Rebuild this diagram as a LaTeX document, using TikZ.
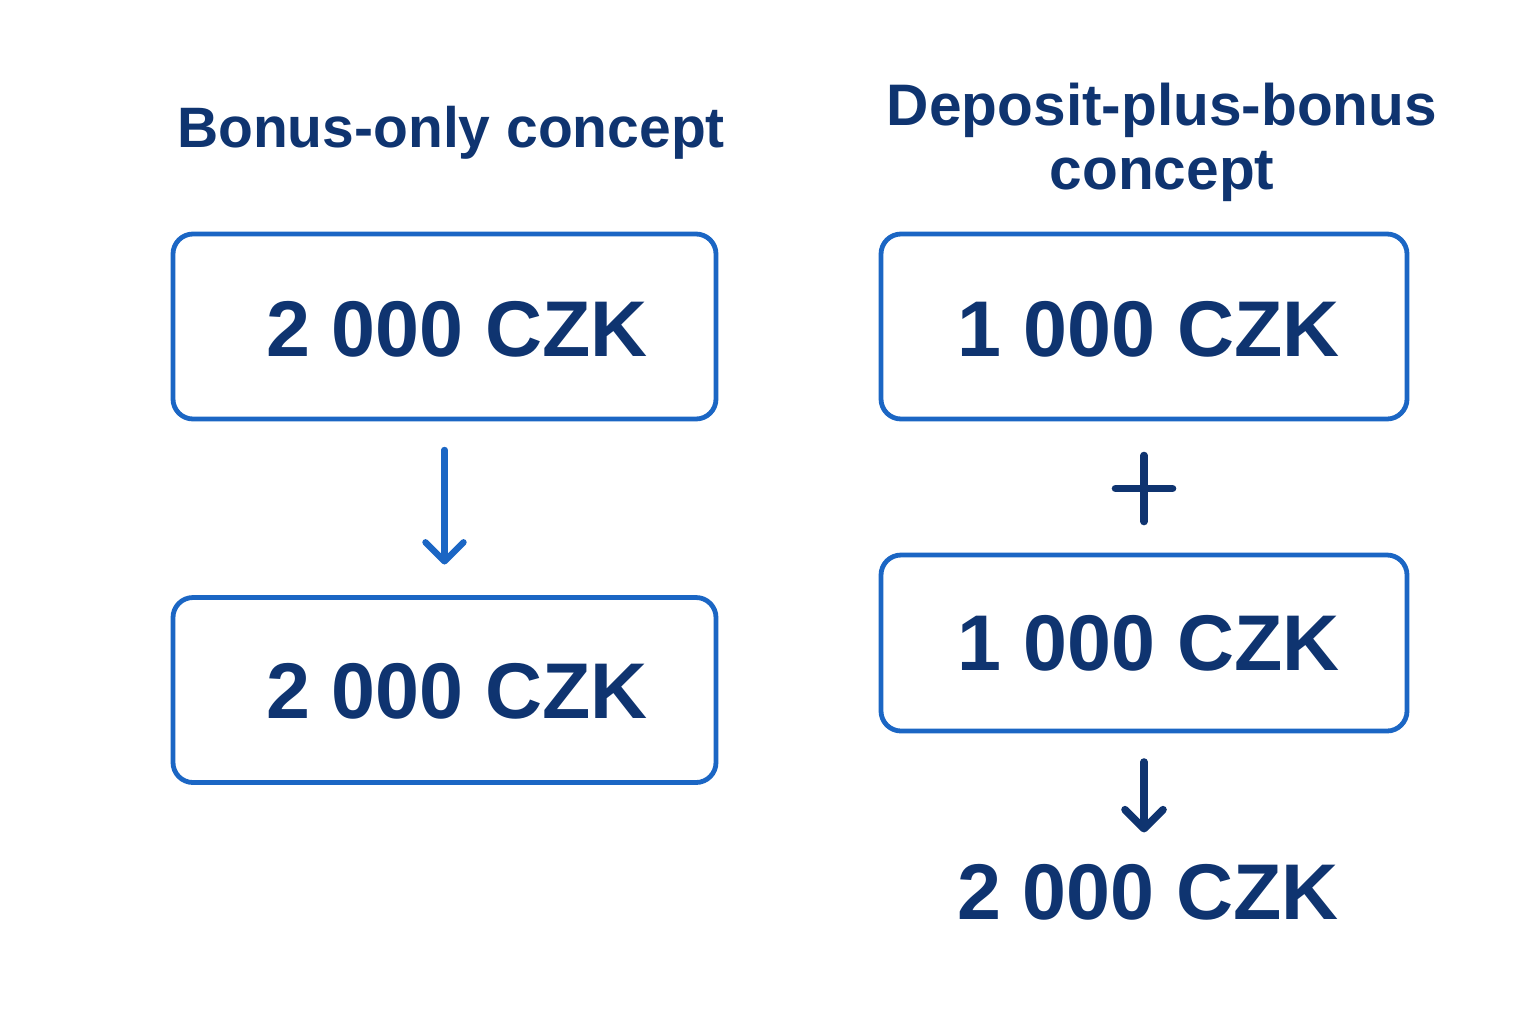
\documentclass[tikz,border=0pt]{standalone}
\usepackage{fontspec}
\setmainfont{Liberation Sans}
\usetikzlibrary{arrows.meta}
\definecolor{navy}{HTML}{0F3470}
\definecolor{boxblue}{HTML}{1B66C4}
\begin{document}
\begin{tikzpicture}[x=0.5pt,y=-0.5pt,
  box/.style={draw=boxblue,line width=2.4pt,rounded corners=10pt,inner sep=0pt,outer sep=0pt,fill=white},
  amount/.style={text=navy,font=\fontsize{39.5}{44}\selectfont\bfseries,inner sep=0pt,anchor=base},
  title/.style={text=navy,font=\fontsize{28.5}{32}\selectfont\bfseries,inner sep=0pt,align=center},
  bigtitle/.style={title,font=\fontsize{29.3}{32}\selectfont\bfseries},
  bluearrow/.style={draw=boxblue,line width=3.2pt,line cap=round,-{Straight Barb[length=9.5pt,width=19pt,round]}},
  navyarrow/.style={draw=navy,line width=3.8pt,line cap=round,-{Straight Barb[length=9.5pt,width=19pt,round]}},
  plusline/.style={draw=navy,line width=3.8pt,line cap=round}
]
\useasboundingbox (0,0) rectangle (1536,1024);
\fill[white] (0,0) rectangle (1536,1024);

% titles
\node[title,anchor=base] (tl) at (451,147) {Bonus-only concept};
\node[bigtitle,anchor=north] (tr) at (1162,83) {Deposit-plus-bonus\\concept};

% left column
\node[box,minimum width=271.5pt,minimum height=92.5pt] (l1) at (444.5,326.5) {};
\node[amount] (l1t) at (457,356) {2 000 CZK};
\node[box,minimum width=271.5pt,minimum height=92.5pt] (l2) at (444.5,690) {};
\node[amount] (l2t) at (457,718) {2 000 CZK};
\draw[bluearrow,shorten <=15.5pt,shorten >=16.5pt] (l1.south) -- (l2.north);

% right column
\node[box,minimum width=263pt,minimum height=92.5pt] (r1) at (1144,326.5) {};
\node[amount] (r1t) at (1148.5,356) {1 000 CZK};
\node[box,minimum width=263pt,minimum height=88pt] (r2) at (1144,643) {};
\node[amount] (r2t) at (1148.5,670) {1 000 CZK};
\coordinate (plus) at (1144,488.5);
\draw[plusline] ([xshift=-14.25pt]plus) -- ([xshift=14.25pt]plus);
\draw[plusline] ([yshift=-16.5pt]plus) -- ([yshift=16.5pt]plus);
\node[amount] (tot) at (1148,919) {2 000 CZK};
\draw[navyarrow,shorten <=15.5pt,shorten >=15.5pt] (r2.south) -- (r2.south |- tot.north);
\end{tikzpicture}
\end{document}
